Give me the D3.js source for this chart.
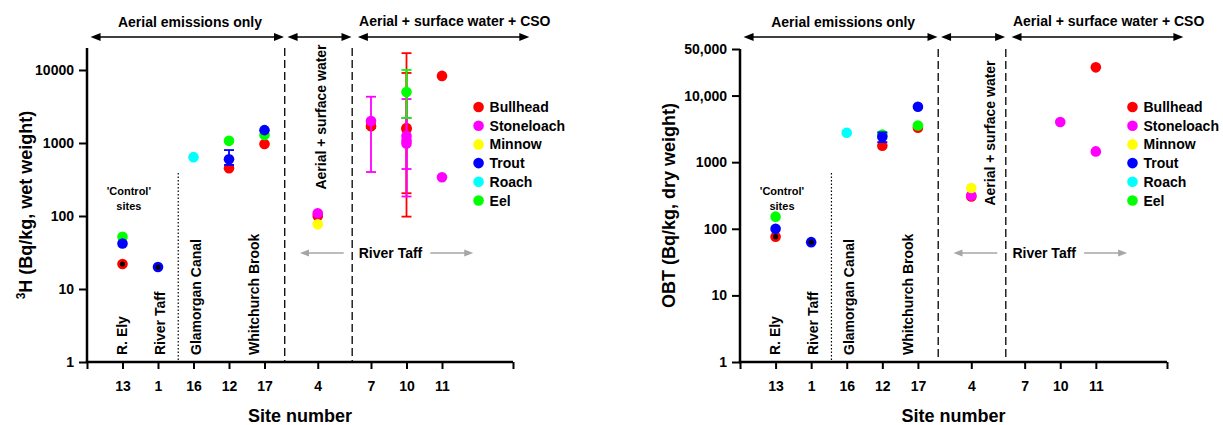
<!DOCTYPE html>
<html><head><meta charset="utf-8">
<script src="https://cdn.jsdelivr.net/npm/d3@7"></script>
<style>
body{margin:0;background:#fff}
svg{display:block}
text{font-family:Arial,"Liberation Sans",Helvetica,sans-serif;font-weight:bold;fill:#000}
</style>
</head><body>
<svg id="c" width="1223" height="425"></svg>
<script>
// ---------- data ----------
const siteLabels = ["13","1","16","12","17","4","7","10","11"];
const sitePositions = [1,2,3,4,5,6.5,8,9,10];
const speciesNames = ["Bullhead","Stoneloach","Minnow","Trout","Roach","Eel"];
const speciesColors = ["#ff0000","#ff00ff","#ffff00","#0000ff","#00ffff","#00ff00"];
const drawOrder = ["Bullhead","Stoneloach","Minnow","Roach","Eel","Trout"];

// Left panel: 3H (Bq/kg wet weight)  [site, value, low, high]
const h3Bullhead   = [["13",22],["12",450],["17",970],["4",100],["7",1700,1600,1900],["10",1550,205,9100],["10",1600,98,17000],["11",8300]];
const h3Stoneloach = [["4",109],["7",2000,400,4300],["10",1250,440,4000],["10",1080,185,2200],["10",980],["11",340]];
const h3Minnow     = [["4",77]];
const h3Trout      = [["13",42],["1",20],["12",600,500,800],["17",1500]];
const h3Roach      = [["16",640]];
const h3Eel        = [["13",52],["12",1070],["17",1290],["10",5000,2200,10000]];
const h3Marked     = [["13",22],["1",20]];
const h3TickValues = [1,10,100,1000,10000];
const h3TickLabels = ["1","10","100","1000","10000"];

// Right panel: OBT (Bq/kg dry weight)
const obtBullhead   = [["13",76],["12",1770],["17",3300],["4",305],["11",26500]];
const obtStoneloach = [["4",315],["10",4000],["11",1450]];
const obtMinnow     = [["4",410]];
const obtTrout      = [["13",100],["1",63],["12",2400,2000,2800],["17",6800]];
const obtRoach      = [["16",2770]];
const obtEel        = [["13",152],["12",2600],["17",3550]];
const obtMarked     = [["13",76],["1",63]];
const obtTickValues = [1,10,100,1000,10000,50000];
const obtTickLabels = ["1","10","100","1000","10,000","50,000"];

const zoneLabels = ["Aerial emissions only","Aerial + surface water","Aerial + surface water + CSO"];
const waterLabels = ["R. Ely","River Taff","Glamorgan Canal","Whitchurch Brook"];

// ---------- drawing ----------
const svg = d3.select("#c");
const sitePos = Object.fromEntries(siteLabels.map((s,i)=>[s,sitePositions[i]]));

function tri(g, x, y, dir, len, hw, color){
  g.append("path")
    .attr("d", `M${x},${y} L${x - dir*len},${y-hw} L${x - dir*len},${y+hw} Z`)
    .attr("fill", color);
}
function dblArrow(g, xa, xb, y, color, len, hw, sw){
  g.append("line").attr("x1",xa+len*0.5).attr("x2",xb-len*0.5).attr("y1",y).attr("y2",y)
    .attr("stroke",color).attr("stroke-width",sw);
  tri(g, xa, y, -1, len, hw, color);
  tri(g, xb, y, 1, len, hw, color);
}

function drawPanel(cfg){
  const g = svg.append("g");
  const x = d3.scaleLinear().domain([0,12]).range([cfg.x0, cfg.x1]);
  const y = d3.scaleLog().domain([1, cfg.yMax]).range([cfg.yBottom, cfg.yTop]);

  // axes
  const yAxis = d3.axisLeft(y).tickValues(cfg.tickValues)
    .tickFormat((d,i)=>cfg.tickLabels[i]).tickSizeOuter(0).tickSize(8).tickPadding(5);
  const ya = g.append("g").attr("transform",`translate(${cfg.x0},0)`).call(yAxis);
  const xAxis = d3.axisBottom(x).tickValues([0].concat(sitePositions).concat([12]))
    .tickFormat(d=>{const i=sitePositions.indexOf(d);return i>=0?siteLabels[i]:"";})
    .tickSizeOuter(0).tickSize(7).tickPadding(12);
  const xa = g.append("g").attr("transform",`translate(0,${cfg.yBottom})`).call(xAxis);
  [ya,xa].forEach(a=>{
    a.select(".domain").attr("stroke","#000").attr("stroke-width",2.5);
    a.selectAll(".tick line").attr("stroke","#000").attr("stroke-width",2);
    a.selectAll(".tick text").style("font-size","14px").style("font-weight","bold")
      .style("font-family","Arial, 'Liberation Sans', sans-serif").attr("fill","#000");
  });
  ya.select(".domain").attr("d",`M0,${cfg.yTop}V${cfg.yBottom+1}`);
  xa.select(".domain").attr("d",`M${x(0)-1.2},0H${x(12)}`);

  // zone separators
  [5.57,7.47].forEach(v=>{
    g.append("line").attr("x1",x(v)).attr("x2",x(v)).attr("y1",cfg.yTop).attr("y2",cfg.yBottom)
      .attr("stroke","#000").attr("stroke-width",1.3).attr("stroke-dasharray","8,4");
  });
  g.append("line").attr("x1",x(2.57)).attr("x2",x(2.57)).attr("y1",173).attr("y2",cfg.yBottom)
    .attr("stroke","#000").attr("stroke-width",1.2).attr("stroke-dasharray","1.5,2");

  // top arrows + zone labels
  dblArrow(g, x(0.1), x(5.55), 37, "#000", 10, 4, 1.5);
  dblArrow(g, x(5.65), x(7.45), 37, "#000", 10, 4, 1.5);
  dblArrow(g, x(7.63), x(12.46), 37, "#000", 10, 4, 1.5);
  g.append("text").attr("x",x(2.9)).attr("y",27).attr("text-anchor","middle")
    .style("font-size","14px").text(zoneLabels[0]);
  g.append("text").attr("x",x(10.36)).attr("y",26).attr("text-anchor","middle")
    .style("font-size","14px").text(zoneLabels[2]);
  g.append("text").attr("transform",`translate(${x(cfg.midLabelX)},${cfg.midLabelY}) rotate(-90)`)
    .attr("text-anchor","middle").style("font-size","14px").text(zoneLabels[1]);

  // River Taff grey arrows
  const grey = "#a6a6a6";
  g.append("line").attr("x1",x(6.0)+6).attr("x2",x(7.23)).attr("y1",253).attr("y2",253).attr("stroke",grey).attr("stroke-width",1.5);
  tri(g, x(6.0), 253, -1, 9, 3.5, grey);
  g.append("line").attr("x1",x(9.67)).attr("x2",x(10.88)-6).attr("y1",253).attr("y2",253).attr("stroke",grey).attr("stroke-width",1.5);
  tri(g, x(10.88), 253, 1, 9, 3.5, grey);
  g.append("text").attr("x",x(8.55)).attr("y",258).attr("text-anchor","middle")
    .style("font-size","14px").text("River Taff");

  // water body labels
  [1.13,2.2,3.2,4.85].forEach((p,i)=>{
    g.append("text").attr("transform",`translate(${x(p)},355) rotate(-90)`)
      .attr("text-anchor","start").style("font-size","14px").text(waterLabels[i]);
  });
  g.append("text").attr("x",x(1.18)).attr("y",195).attr("text-anchor","middle").style("font-size","11px").text("'Control'");
  g.append("text").attr("x",x(1.18)).attr("y",210).attr("text-anchor","middle").style("font-size","11px").text("sites");

  // axis titles
  g.append("text").attr("x",(cfg.x0+cfg.x1)/2).attr("y",422).attr("text-anchor","middle")
    .style("font-size","18px").text("Site number");
  const yt = g.append("text").attr("transform",`translate(${cfg.yTitleX},${(cfg.yTop+cfg.yBottom)/2}) rotate(-90)`)
    .attr("text-anchor","middle").style("font-size","18px");
  cfg.yTitle(yt);

  // data
  drawOrder.forEach(name=>{
    const idx = speciesNames.indexOf(name);
    const color = speciesColors[idx];
    const pts = cfg.series[name];
    pts.filter(p=>p.length>2).forEach(p=>{
      const cx = x(sitePos[p[0]]);
      g.append("line").attr("x1",cx).attr("x2",cx).attr("y1",y(p[2])).attr("y2",y(p[3]))
        .attr("stroke",color).attr("stroke-width",1.8);
      [p[2],p[3]].forEach(v=>g.append("line").attr("x1",cx-5).attr("x2",cx+5).attr("y1",y(v)).attr("y2",y(v))
        .attr("stroke",color).attr("stroke-width",1.8));
    });
    g.selectAll(null).data(pts).enter().append("circle")
      .attr("cx",d=>x(sitePos[d[0]])).attr("cy",d=>y(d[1])).attr("r",5.3).attr("fill",color);
  });
  g.selectAll(null).data(cfg.marked).enter().append("circle")
    .attr("cx",d=>x(sitePos[d[0]])).attr("cy",d=>y(d[1])).attr("r",2.6).attr("fill","#000");

  // legend
  speciesNames.forEach((n,i)=>{
    const ly = 107 + i*18.7;
    g.append("circle").attr("cx",x(11.03)).attr("cy",ly).attr("r",5.3).attr("fill",speciesColors[i]);
    g.append("text").attr("x",x(11.34)).attr("y",ly+5).style("font-size","14px").text(n);
  });
}

drawPanel({
  x0:87, x1:513, yTop:48, yBottom:362, yMax:20000,
  tickValues:h3TickValues, tickLabels:h3TickLabels,
  midLabelX:6.74, midLabelY:117, yTitleX:32,
  yTitle: t=>{ t.append("tspan").style("font-size","12px").attr("dy","-7").text("3");
               t.append("tspan").attr("dy","7").text("H (Bq/kg, wet weight)"); },
  series:{Bullhead:h3Bullhead,Stoneloach:h3Stoneloach,Minnow:h3Minnow,Trout:h3Trout,Roach:h3Roach,Eel:h3Eel},
  marked:h3Marked
});
drawPanel({
  x0:740, x1:1167, yTop:49, yBottom:362, yMax:50000,
  tickValues:obtTickValues, tickLabels:obtTickLabels,
  midLabelX:7.17, midLabelY:133, yTitleX:675,
  yTitle: t=>t.text("OBT (Bq/kg, dry weight)"),
  series:{Bullhead:obtBullhead,Stoneloach:obtStoneloach,Minnow:obtMinnow,Trout:obtTrout,Roach:obtRoach,Eel:obtEel},
  marked:obtMarked
});
</script>
</body></html>
